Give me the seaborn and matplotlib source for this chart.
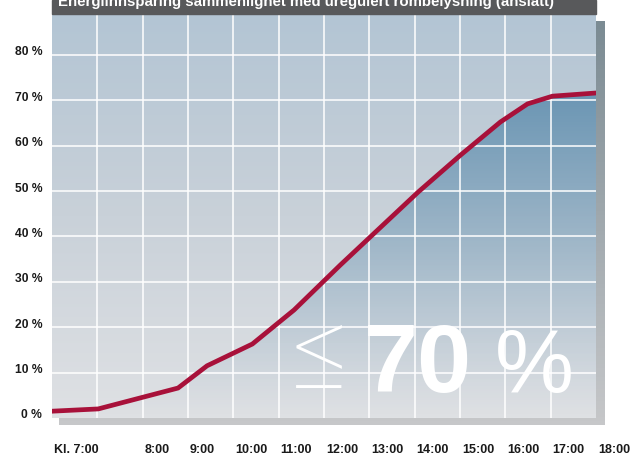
import numpy as np
import pandas as pd
import seaborn as sns
import matplotlib.pyplot as plt
from matplotlib.colors import LinearSegmentedColormap
from matplotlib.patches import Rectangle, Polygon
from matplotlib import transforms

# grid units along x: one column per grid cell, 7:00 at the left edge
hour_labels = ["Kl. 7:00", "8:00", "9:00", "10:00", "11:00", "12:00",
               "13:00", "14:00", "15:00", "16:00", "17:00", "18:00"]
hour_pos = [0, 2, 3, 4, 5, 6, 7, 8, 9, 10, 11, 12]

x_pos = [0, 1.02, 2.78, 3.42, 4.42, 5.34, 6.36, 8.08, 9.01, 9.89, 10.49, 11.04, 12.0]
savings = [1.5, 2.0, 6.6, 11.5, 16.3, 23.8, 33.7, 49.8, 57.9, 65.2, 69.2, 70.9, 71.6]

y_ticks = [0, 10, 20, 30, 40, 50, 60, 70, 80]
y_labels = [f"{v} %" for v in y_ticks]

title = "Energiinnsparing sammenlignet med uregulert rombelysning (anslått)"

plt.rcParams["font.family"] = ["Liberation Sans", "DejaVu Sans"]

W, H = 630, 455
fig = plt.figure(figsize=(6.3, 4.55), dpi=100)


def px(x0, y0, x1, y1):
    return [x0 / W, 1 - y1 / H, (x1 - x0) / W, (y1 - y0) / H]


# drop shadow behind the plot
sh = fig.add_axes(px(59, 21, 605, 425))
shade = LinearSegmentedColormap.from_list("shade", ["#c6c7c9", "#7b8b93"])
sh.imshow(np.linspace(0, 1, 100).reshape(-1, 1), cmap=shade, aspect="auto",
          origin="lower", extent=[0, 1, 0, 1])
sh.axis("off")

# header bar (title is cut at the top edge, as in the original)
fig.patches.append(Rectangle((52 / W, 1 - 14 / H), (596 - 52) / W, 14 / H,
                             transform=fig.transFigure, color="#58595b", zorder=0))
fig.text(58 / W, 1 - 6 / H, title, color="white", fontsize=10.8,
         fontweight="bold", va="baseline", ha="left")

ax = fig.add_axes(px(52, 14, 596, 418))
ymax = 89.0
xmax = 12

bg = LinearSegmentedColormap.from_list("bg", ["#dfe1e4", "#c9d1d9", "#b3c5d4"])
ax.imshow(np.linspace(0, 1, 200).reshape(-1, 1), cmap=bg, aspect="auto",
          origin="lower", extent=[0, xmax, 0, ymax], zorder=0)

# blue fill under the curve, stronger towards the top
yy = np.linspace(0, ymax, 300)
alpha = np.clip(0.78 * (yy / 72) ** 1.2, 0, 0.85)
rgba = np.zeros((300, 1, 4))
rgba[:, 0, 0] = 0.33
rgba[:, 0, 1] = 0.53
rgba[:, 0, 2] = 0.67
rgba[:, 0, 3] = alpha
fill = ax.imshow(rgba, aspect="auto", origin="lower",
                 extent=[0, xmax, 0, ymax], zorder=1)
poly = Polygon(list(zip(x_pos, savings)) + [(x_pos[-1], 0), (x_pos[0], 0)],
               closed=True, transform=ax.transData)
fill.set_clip_path(poly)

df = pd.DataFrame({"pos": x_pos, "saving": savings})
sns.lineplot(data=df, x="pos", y="saving", ax=ax, color="#a8113a",
             linewidth=3.4, zorder=4, solid_joinstyle="miter")

for v in range(1, xmax):
    ax.axvline(v, color="white", lw=1.1, zorder=2)
for v in y_ticks[1:]:
    ax.axhline(v, color="white", lw=1.1, zorder=2)

ax.set_xlim(0, xmax)
ax.set_ylim(0, ymax)
ax.set_xticks(hour_pos)
ax.set_xticklabels(hour_labels, ha="left", fontsize=9, fontweight="bold",
                   color="#1a1a1a")
ax.set_yticks(y_ticks)
ax.set_yticklabels(y_labels, fontsize=8.7, fontweight="bold", color="#1a1a1a")
ax.tick_params(length=0)
ax.tick_params(axis="x", pad=18.5)
ax.tick_params(axis="y", pad=7)
for lab in ax.get_xticklabels():
    lab.set_transform(lab.get_transform() + transforms.ScaledTranslation(2 / 100, 0, fig.dpi_scale_trans))
for lab in ax.get_yticklabels():
    lab.set_transform(lab.get_transform() + transforms.ScaledTranslation(0, 4 / 100, fig.dpi_scale_trans))
ax.set_xlabel("")
ax.set_ylabel("")
for s in ax.spines.values():
    s.set_visible(False)

# big annotation
ax.text(0.493, 0.075, "≤", transform=ax.transAxes, color="white",
        fontsize=80, ha="center", va="baseline", zorder=5,
        family=["Roboto", "DejaVu Sans"], fontweight="light")
ax.text(0.573, 0.064, "70", transform=ax.transAxes, color="white",
        fontsize=70, fontweight="bold", ha="left", va="baseline", zorder=5)
ax.text(0.815, 0.064, "%", transform=ax.transAxes, color="white",
        fontsize=64, ha="left", va="baseline", zorder=5)

fig.savefig("out.png", dpi=100)
